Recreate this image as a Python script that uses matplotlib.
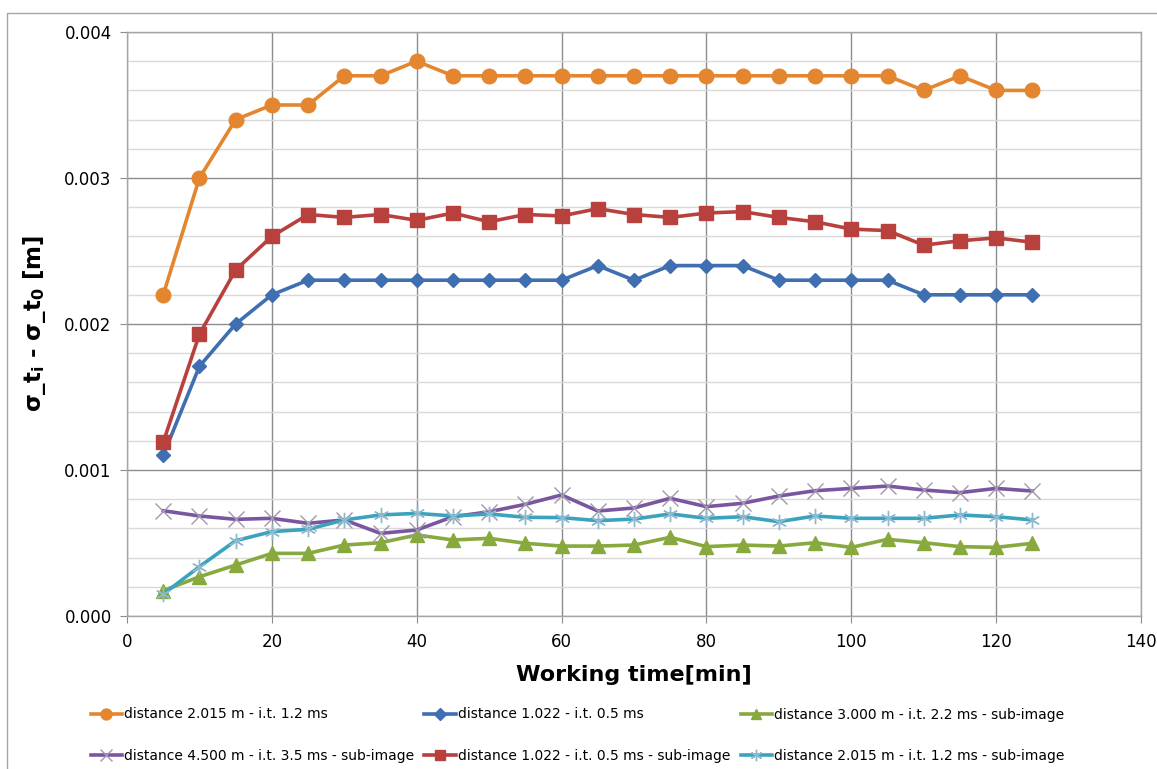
import matplotlib
matplotlib.use("Agg")
import matplotlib.pyplot as plt
from matplotlib.patches import Rectangle
from matplotlib.ticker import MultipleLocator, FormatStrFormatter

time_min = [5, 10, 15, 20, 25, 30, 35, 40, 45, 50, 55, 60, 65, 70, 75, 80, 85, 90, 95, 100, 105, 110, 115, 120, 125]

orange_2015 = [0.0022, 0.0030, 0.0034, 0.0035, 0.0035, 0.0037, 0.0037, 0.0038, 0.0037, 0.0037, 0.0037, 0.0037, 0.0037,
               0.0037, 0.0037, 0.0037, 0.0037, 0.0037, 0.0037, 0.0037, 0.0037, 0.0036, 0.0037, 0.0036, 0.0036]
blue_1022 = [0.00110, 0.00171, 0.00200, 0.00220, 0.00230, 0.00230, 0.00230, 0.00230, 0.00230, 0.00230, 0.00230, 0.00230,
             0.00240, 0.00230, 0.00240, 0.00240, 0.00240, 0.00230, 0.00230, 0.00230, 0.00230, 0.00220, 0.00220, 0.00220, 0.00220]
green_3000_sub = [0.000173, 0.000269, 0.000349, 0.000429, 0.000429, 0.000486, 0.000502, 0.000555, 0.000521, 0.000532,
                  0.000498, 0.000479, 0.000479, 0.000486, 0.000539, 0.000475, 0.000486, 0.000479, 0.000502, 0.000470,
                  0.000525, 0.000502, 0.000475, 0.000470, 0.000498]
purple_4500_sub = [0.000721, 0.000685, 0.000662, 0.000669, 0.000635, 0.000658, 0.000566, 0.000589, 0.000680, 0.000714,
                   0.000765, 0.000829, 0.000719, 0.000740, 0.000806, 0.000749, 0.000772, 0.000822, 0.000858, 0.000874,
                   0.000890, 0.000863, 0.000845, 0.000874, 0.000856]
red_1022_sub = [0.00119, 0.00193, 0.00237, 0.00260, 0.00275, 0.00273, 0.00275, 0.00271, 0.00276, 0.00270, 0.00275,
                0.00274, 0.00279, 0.00275, 0.00273, 0.00276, 0.00277, 0.00273, 0.00270, 0.00265, 0.00264, 0.00254,
                0.00257, 0.00259, 0.00256]
cyan_2015_sub = [0.000150, 0.000338, 0.000516, 0.000578, 0.000594, 0.000658, 0.000692, 0.000703, 0.000685, 0.000699,
                 0.000676, 0.000674, 0.000653, 0.000664, 0.000699, 0.000669, 0.000680, 0.000646, 0.000685, 0.000669,
                 0.000669, 0.000669, 0.000692, 0.000680, 0.000658]

labels = ["distance 2.015 m - i.t. 1.2 ms",
          "distance 1.022 - i.t. 0.5 ms",
          "distance 3.000 m - i.t. 2.2 ms - sub-image",
          "distance 4.500 m - i.t. 3.5 ms - sub-image",
          "distance 1.022 - i.t. 0.5 ms - sub-image",
          "distance 2.015 m - i.t. 1.2 ms - sub-image"]

fig = plt.figure(figsize=(11.57, 7.69), dpi=100)
fig.patch.set_facecolor("white")
fig.add_artist(Rectangle((7 / 1157, -0.01), 1.02, (769 - 13) / 769 + 0.01, transform=fig.transFigure,
                         fill=False, edgecolor="#a6a6a6", linewidth=1.0))

ax = fig.add_axes([127 / 1157, (769 - 616) / 769, (1141 - 127) / 1157, (616 - 32) / 769])

lw = 2.6
h_orange, = ax.plot(time_min, orange_2015, color="#E4862F", lw=lw, marker="o", ms=10.5, mec="#E4862F", zorder=5)
h_blue, = ax.plot(time_min, blue_1022, color="#3F6FB0", lw=lw, marker="D", ms=7.5, mec="#3F6FB0", zorder=5)
h_green, = ax.plot(time_min, green_3000_sub, color="#87A93E", lw=lw, marker="^", ms=10, mec="#87A93E", zorder=5)
h_purple, = ax.plot(time_min, purple_4500_sub, color="#7A56A0", lw=lw, marker="x", ms=11, mec="#9e97ad",
                    mew=1.0, zorder=5)
h_red, = ax.plot(time_min, red_1022_sub, color="#B8413E", lw=lw, marker="s", ms=10, mec="#B8413E", zorder=5)
h_cyan, = ax.plot(time_min, cyan_2015_sub, color="#3BA3BD", lw=lw, marker=(6, 2, 0), ms=11, mec="#8fb9cc",
                  mew=1.0, zorder=5)

ax.set_xlim(0, 140)
ax.set_ylim(0, 0.004)
ax.xaxis.set_major_locator(MultipleLocator(20))
ax.yaxis.set_major_locator(MultipleLocator(0.001))
ax.yaxis.set_minor_locator(MultipleLocator(0.0002))
ax.yaxis.set_major_formatter(FormatStrFormatter("%.3f"))

ax.grid(True, which="major", axis="both", color="#8c8c8c", lw=1.0)
ax.grid(True, which="minor", axis="y", color="#d9d9d9", lw=1.0)
ax.set_axisbelow(True)
for s in ax.spines.values():
    s.set_color("#a6a6a6")
    s.set_linewidth(1.0)
ax.tick_params(axis="both", which="major", length=5, color="#8c8c8c", labelsize=12, pad=6)
ax.tick_params(axis="y", which="minor", length=0)
ax.tick_params(axis="x", pad=7)

ax.set_xlabel("Working time[min]", fontsize=16, fontweight="bold", labelpad=10)
ax.set_ylabel(r"σ_t$_\mathbf{i}$ - σ_t$_\mathbf{0}$ [m]", fontsize=16.5, fontweight="bold", labelpad=12)

handles = [h_orange, h_purple, h_blue, h_red, h_green, h_cyan]
leg_labels = [labels[0], labels[3], labels[1], labels[4], labels[2], labels[5]]
fig.legend(handles, leg_labels, ncol=3, loc="upper left", bbox_to_anchor=(78 / 1157, (769 - 695) / 769),
           frameon=False, fontsize=10, handlelength=2.3, handletextpad=0.1, columnspacing=0.75,
           labelspacing=1.95, markerscale=0.75)

fig.savefig("out.png", dpi=100, facecolor="white")
